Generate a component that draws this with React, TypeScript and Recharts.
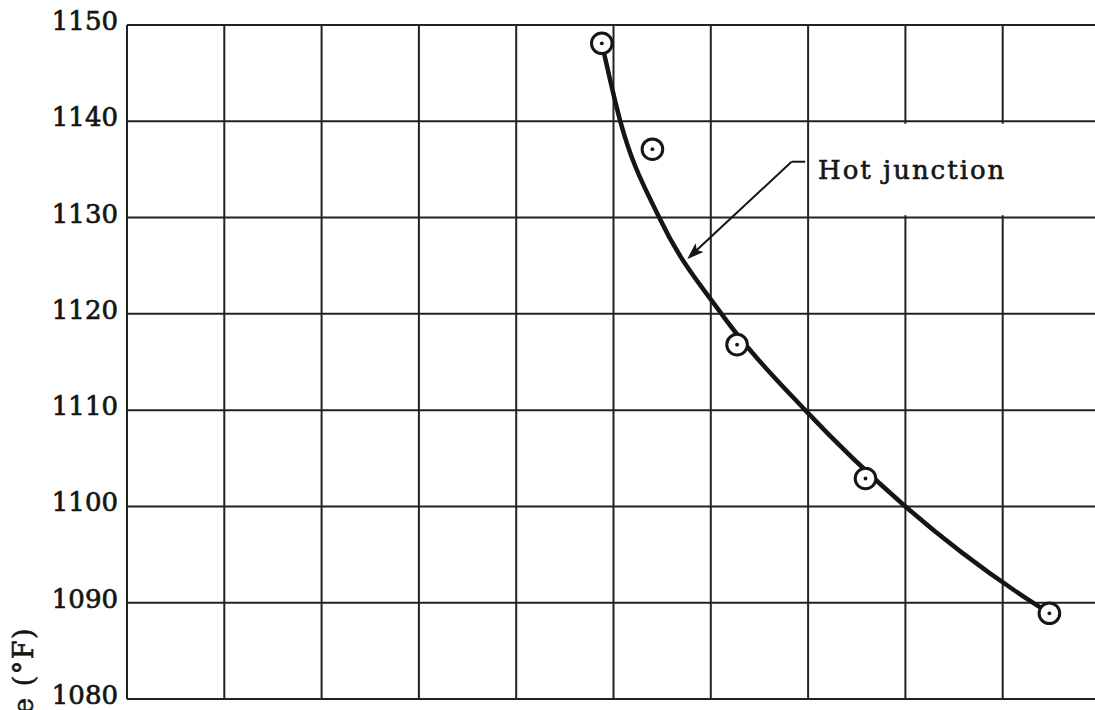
import React from 'react';
import {
  ComposedChart,
  Line,
  Scatter,
  XAxis,
  YAxis,
  CartesianGrid,
  ReferenceLine,
  ReferenceArea,
  ReferenceDot,
} from 'recharts';

// grid ticks
const xTicks = [0, 1, 2, 3, 4, 5, 6, 7, 8, 9, 10];
const yTicks = [1080, 1090, 1100, 1110, 1120, 1130, 1140, 1150];

// measured points (circled dots)
const pointX = [4.88, 5.4, 6.27, 7.59, 9.48];
const pointY = [1148.1, 1137.1, 1116.8, 1102.9, 1088.9];

// faired curve through the data
const curveX = [4.88, 5.07, 5.47, 6.11, 6.97, 8.0, 9.31, 9.48];
const curveY = [1148.1, 1140, 1130, 1120, 1110, 1100, 1090, 1088.9];

const curveLabel = 'Hot junction';
const yLabel = 'Temperature (°F)';

const points = pointX.map((x, i) => ({ x, y: pointY[i] }));
const curve = curveX.map((x, i) => ({ x, y: curveY[i] }));

const ink = '#151515';
const serif = '"DejaVu Serif", "Liberation Serif", serif';

const CircleDot = (props: any) => {
  const { cx, cy } = props;
  return (
    <g>
      <circle cx={cx} cy={cy} r={10.3} fill="#fff" stroke={ink} strokeWidth={3} />
      <circle cx={cx} cy={cy} r={1.9} fill={ink} />
    </g>
  );
};

const YTick = (props: any) => {
  const { x, y, payload } = props;
  return (
    <text
      x={x}
      y={y + 5}
      textAnchor="end"
      fontFamily={serif}
      fontSize={26}
      fill={ink}
      stroke={ink}
      strokeWidth={0.7}
    >
      {payload.value}
    </text>
  );
};

const ArrowHead = (props: any) => {
  const { cx, cy } = props;
  return (
    <polygon
      points="0,0 -14,-5 -11,0 -14,5"
      transform={`translate(${cx},${cy}) rotate(137)`}
      fill={ink}
      stroke={ink}
      strokeWidth={1}
    />
  );
};

export default function App() {
  return (
    <div style={{ position: 'absolute', left: 0, top: 0, width: 1095, height: 710, overflow: 'hidden', background: '#fff' }}>
      <ComposedChart width={1100} height={710} margin={{ top: 25, right: 0, left: 0, bottom: 11 }}>
        <CartesianGrid stroke="#222" strokeWidth={2} />
        <XAxis dataKey="x" type="number" domain={[0, 10]} ticks={xTicks} hide />
        <YAxis
          type="number"
          domain={[1080, 1150]}
          ticks={yTicks}
          width={127}
          axisLine={false}
          tickLine={false}
          tickSize={0}
          tickMargin={9}
          tick={<YTick />}
          label={{
            value: yLabel,
            content: () => (
              <text
                transform="translate(33,627) rotate(-90)"
                textAnchor="end"
                fontFamily={serif}
                fontSize={27}
                letterSpacing={1.5}
                fill={ink}
                stroke={ink}
                strokeWidth={0.6}
              >
                {yLabel}
              </text>
            ),
          }}
        />
        <ReferenceArea
          x1={7.02}
          x2={10.5}
          y1={1130.25}
          y2={1139.75}
          fill="#fff"
          fillOpacity={1}
          stroke="none"
          ifOverflow="hidden"
          label={{
            value: curveLabel,
            position: 'insideLeft',
            offset: 8,
            fontFamily: serif,
            fontSize: 26,
            fill: ink,
            stroke: ink,
            strokeWidth: 0.6,
            letterSpacing: 2,
          }}
        />
        <ReferenceLine
          segment={[{ x: 6.97, y: 1135.8 }, { x: 6.83, y: 1135.8 }]}
          stroke={ink}
          strokeWidth={2}
        />
        <ReferenceLine
          segment={[{ x: 6.83, y: 1135.8 }, { x: 5.79, y: 1126.0 }]}
          stroke={ink}
          strokeWidth={2}
        />
        <ReferenceDot x={5.77} y={1125.8} shape={<ArrowHead />} />
        <Line
          data={curve}
          dataKey="y"
          type="monotone"
          stroke={ink}
          strokeWidth={4.5}
          dot={false}
          isAnimationActive={false}
        />
        <Scatter data={points} dataKey="y" shape={<CircleDot />} isAnimationActive={false} />
      </ComposedChart>
    </div>
  );
}
